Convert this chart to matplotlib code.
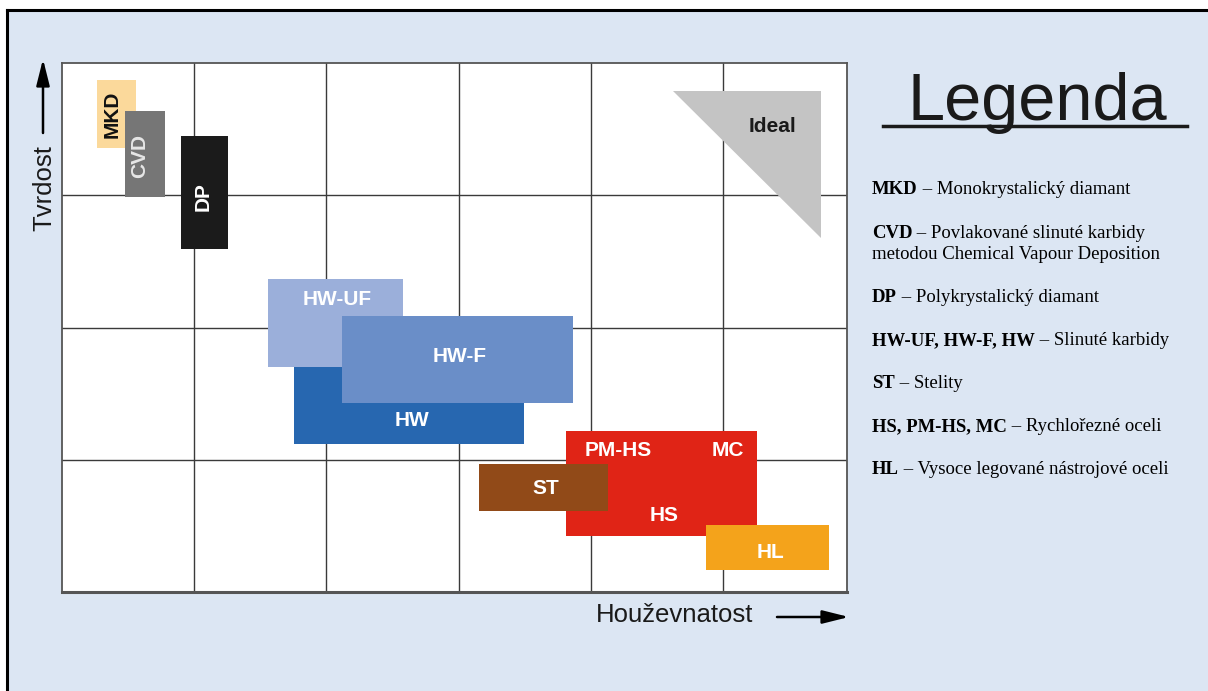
import matplotlib
matplotlib.use("Agg")
import matplotlib.pyplot as plt
from matplotlib.patches import Rectangle, Polygon, FancyArrowPatch
from matplotlib.lines import Line2D

W, H = 1208, 691

# ---- data (grid units: x toughness, y hardness; grid lines at integers) ----
names   = ["MKD", "CVD", "DP", "HW", "HW-UF", "HW-F", "HS", "ST", "HL"]
x_left  = [0.265, 0.477, 0.900, 1.755, 1.558, 2.118, 3.813, 3.154, 4.871]
x_right = [0.560, 0.779, 1.256, 3.495, 2.579, 3.865, 5.257, 4.130, 5.802]
y_low   = [3.36, 2.99, 2.59, 1.12, 1.70, 1.43, 0.42, 0.61, 0.17]
y_high  = [3.87, 3.64, 3.45, 1.70, 2.37, 2.09, 1.22, 0.97, 0.51]
colors  = ["#fbd99b", "#767676", "#1b1b1b", "#2767b0", "#9bafda",
           "#6a8ec8", "#e02416", "#914a18", "#f4a31b"]

labels      = ["MKD", "CVD", "DP", "HW-UF", "HW-F", "HW", "PM-HS", "MC", "HS", "ST", "HL", "Ideal"]
label_x     = [0.378, 0.590, 1.067, 2.080, 3.011, 2.648, 4.206, 5.038, 4.554, 3.661, 5.356, 5.378]
label_y     = [3.61, 3.30, 2.99, 2.21, 1.78, 1.30, 1.07, 1.07, 0.575, 0.786, 0.30, 3.52]
label_rot   = [90, 90, 90, 0, 0, 0, 0, 0, 0, 0, 0, 0]
label_color = ["#111111", "#e6e6e6", "white", "white", "white", "white",
               "white", "white", "white", "white", "white", "#1a1a1a"]

ideal_x = [4.622, 5.741, 5.741]
ideal_y = [3.79, 3.79, 2.68]

legend_bold = ["MKD", "CVD", "", "DP", "HW-UF, HW-F, HW", "ST", "HS, PM-HS, MC", "HL"]
legend_text = [" – Monokrystalický diamant",
               " – Povlakované slinuté karbidy",
               "metodou Chemical Vapour Deposition",
               " – Polykrystalický diamant",
               " – Slinuté karbidy",
               " – Stelity",
               " – Rychlořezné oceli",
               " – Vysoce legované nástrojové oceli"]
legend_base = [194, 238, 259, 302, 345, 388, 431, 474]

def fx(px):
    return px / W

def fy(py):
    return 1 - py / H

fig = plt.figure(figsize=(W / 100, H / 100), dpi=100, facecolor="white")

# background panel with black left/top border
fig.add_artist(Rectangle((fx(7), 0), 1 - fx(7), fy(10), transform=fig.transFigure,
                         facecolor="#dce6f3", edgecolor="none", zorder=0))
fig.add_artist(Line2D([fx(6.5), 1], [fy(9.5), fy(9.5)], transform=fig.transFigure,
                      color="black", lw=2.2, zorder=1))
fig.add_artist(Line2D([fx(6.5), fx(6.5)], [0, fy(9.5)], transform=fig.transFigure,
                      color="black", lw=2.2, zorder=1))

ax = fig.add_axes([fx(62), fy(592), (847 - 62) / W, (592 - 63) / H])
ax.set_facecolor("white")
ax.set_xlim(0, 785 / 132.2)
ax.set_ylim(0, 4)
ax.set_xticks(range(1, 6))
ax.set_yticks(range(1, 4))
ax.tick_params(length=0, labelbottom=False, labelleft=False)
ax.grid(True, color="#3a3a3a", lw=1.0, zorder=0)
ax.set_axisbelow(True)
for s in ax.spines.values():
    s.set_color("#555555")
    s.set_linewidth(1.3)
ax.spines["bottom"].set_linewidth(2.2)

for n, x0, x1, y0, y1, c in zip(names, x_left, x_right, y_low, y_high, colors):
    ax.add_patch(Rectangle((x0, y0), x1 - x0, y1 - y0, facecolor=c,
                           edgecolor="none", zorder=2))

ax.add_patch(Polygon(list(zip(ideal_x, ideal_y)), closed=True,
                     facecolor="#c4c4c4", edgecolor="none", zorder=2))

for t, x, y, r, c in zip(labels, label_x, label_y, label_rot, label_color):
    ax.text(x, y, t, rotation=r, color=c, fontsize=15, fontweight="bold",
            family="Liberation Sans", ha="center", va="center", zorder=3)

# axis titles with arrows
astyle = "-|>,head_length=0.8,head_width=0.2"
fig.text(fx(44), fy(188), "Tvrdost", rotation=90, fontsize=18.5,
         family="Liberation Sans", color="#1a1a1a", ha="center", va="center")
fig.add_artist(FancyArrowPatch(
    (fx(43), fy(133)), (fx(43), fy(59)), transform=fig.transFigure,
    arrowstyle=astyle, mutation_scale=20, lw=1.8, color="black",
    shrinkA=0, shrinkB=0))
fig.text(fx(675), fy(615), "Houževnatost", fontsize=18.5,
         family="Liberation Sans", color="#1a1a1a", ha="center", va="center")
fig.add_artist(FancyArrowPatch(
    (fx(777), fy(617)), (fx(849), fy(617)), transform=fig.transFigure,
    arrowstyle=astyle, mutation_scale=20, lw=1.8, color="black",
    shrinkA=0, shrinkB=0))

# legend block
fig.text(fx(1037), fy(120), "Legenda", fontsize=48, family="Liberation Sans",
         color="#1a1a1a", ha="center", va="baseline")
fig.add_artist(Line2D([fx(883), fx(1187)], [fy(125.5), fy(125.5)],
                      transform=fig.transFigure, color="#1a1a1a", lw=2.5))

for b, t, yb in zip(legend_bold, legend_text, legend_base):
    if b:
        tb = fig.text(fx(872), fy(yb), b, fontsize=13.5, fontweight="bold",
                      family="Liberation Serif", color="black", va="baseline", ha="left")
        ax.annotate(t, xy=(1, 0), xycoords=tb, fontsize=13.5,
                    family="Liberation Serif", color="black", va="bottom", ha="left",
                    annotation_clip=False)
    else:
        fig.text(fx(872), fy(yb), t, fontsize=13.5, family="Liberation Serif",
                 color="black", va="baseline", ha="left")

fig.savefig("out.png", dpi=100, facecolor="white")
